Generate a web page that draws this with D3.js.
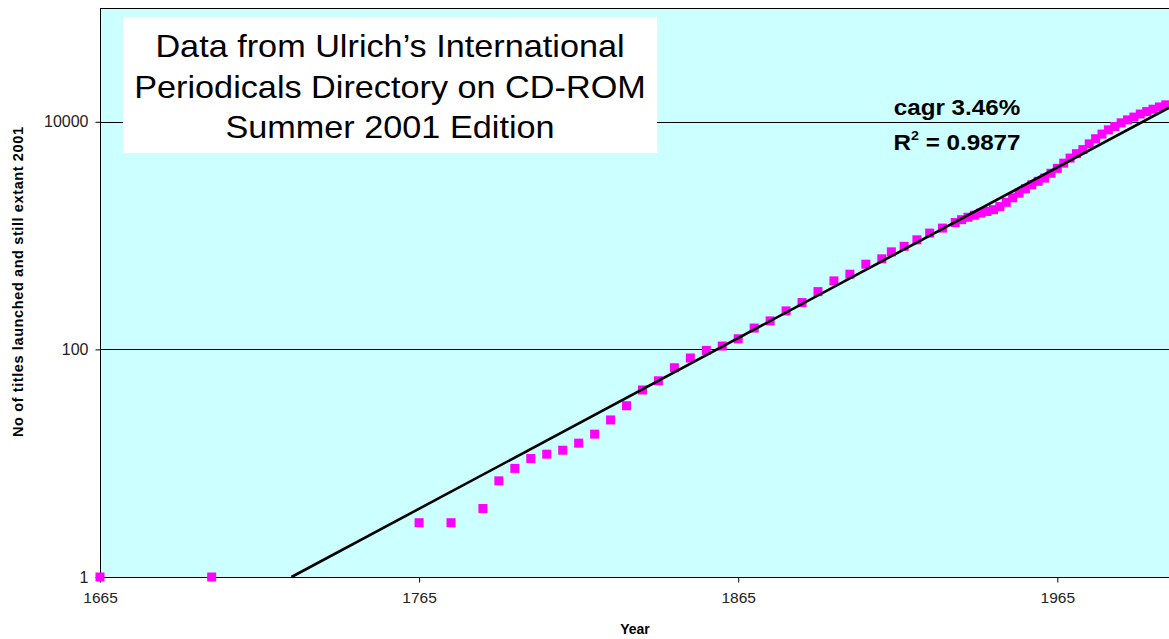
<!DOCTYPE html>
<html>
<head>
<meta charset="utf-8">
<script src="https://cdn.jsdelivr.net/npm/d3@7"></script>
<style>
  body { margin: 0; background: #fff; overflow: hidden; }
  text { font-family: 'Liberation Sans', Arial, sans-serif; }
</style>
</head>
<body>
<svg width="1169" height="639"></svg>
<script>
'use strict';

// titles launched and still extant in 2001, cumulative
const years = [
  1665, 1700, 1765, 1775, 1785, 1790, 1795, 1800, 1805, 1810, 1815, 1820,
  1825, 1830, 1835, 1840, 1845, 1850, 1855, 1860, 1865, 1870, 1875, 1880,
  1885, 1890, 1895, 1900, 1905, 1910, 1913, 1917, 1921, 1925, 1929, 1933,
  1935, 1937, 1939, 1941, 1943, 1945, 1947, 1949, 1951, 1953, 1955, 1957,
  1959, 1961, 1963, 1965, 1967, 1969, 1971, 1973, 1975, 1977, 1979, 1981,
  1983, 1985, 1987, 1989, 1991, 1993, 1995, 1997, 1999
]
const titles = [
  1, 1, 3, 3, 4, 7, 9, 11, 12, 13, 15, 18,
  24, 32, 44, 53, 69, 84, 98, 107, 124, 154, 178, 218,
  258, 322, 400, 458, 561, 625, 720, 805, 918, 1052, 1164, 1303,
  1380, 1450, 1510, 1575, 1630, 1690, 1800, 1960, 2150, 2360, 2580, 2800,
  3000, 3200, 3530, 3900, 4330, 4800, 5250, 5700, 6400, 7100, 7800, 8500,
  9100, 9800, 10400, 11000, 11700, 12300, 12900, 13500, 14100
]

// ends of the exponential trend line (straight on the log axis)
const trendYears = [1725, 2000]
const trendTitles = [1, 13300]

const xTicks = [1665, 1765, 1865, 1965]
const yTicks = [1, 100, 10000]
const boxLines = ['Data from Ulrich\u2019s International', 'Periodicals Directory on CD-ROM', 'Summer 2001 Edition']

const plotLeft = 100, plotRight = 1169, plotTop = 8, plotBottom = 577

const x = d3.scaleLinear().domain([1665, 2000]).range([plotLeft, plotRight])
const y = d3.scaleLog().domain([1, 100000]).range([plotBottom, plotTop])

const svg = d3.select('svg')

svg.append('rect')
  .attr('x', plotLeft + 0.5)
  .attr('y', plotTop + 0.5)
  .attr('width', plotRight - plotLeft + 5)
  .attr('height', plotBottom - plotTop)
  .style('fill', '#ccffff')
  .style('stroke', '#000')
  .style('stroke-width', 1)

// gridlines
svg.selectAll('line.grid')
  .data(yTicks.filter((d) => d > 1))
  .enter()
  .append('line')
  .attr('class', 'grid')
  .attr('x1', plotLeft)
  .attr('x2', plotRight)
  .attr('y1', (d) => Math.round(y(d)) + 0.5)
  .attr('y2', (d) => Math.round(y(d)) + 0.5)
  .style('stroke', '#000')
  .style('stroke-width', 1)

// y axis
const yAxis = svg.append('g')
  .attr('transform', `translate(${plotLeft + 0.5},0)`)
  .call(d3.axisLeft(y).tickValues(yTicks).tickFormat(d3.format('d')).tickSize(5).tickSizeOuter(0).tickPadding(7))
yAxis.select('.domain').remove()
yAxis.selectAll('line').style('stroke', '#000')
yAxis.selectAll('text').style('font-size', '16px').style('fill', '#222')

// x axis
const xAxis = svg.append('g')
  .attr('transform', `translate(0,${plotBottom + 0.5})`)
  .call(d3.axisBottom(x).tickValues(xTicks).tickFormat(d3.format('d')).tickSize(5).tickSizeOuter(0).tickPadding(9))
xAxis.select('.domain').remove()
xAxis.selectAll('line').style('stroke', '#000')
xAxis.selectAll('text').style('font-size', '15.5px').style('fill', '#222')

// text box
svg.append('rect')
  .attr('x', 123)
  .attr('y', 17)
  .attr('width', 534)
  .attr('height', 136)
  .style('fill', '#fff')

svg.append('g').selectAll('text')
  .data(boxLines)
  .enter()
  .append('text')
  .attr('transform', (d, i) => `translate(390,${57 + i * 40.5}) scale(1.07,1)`)
  .attr('text-anchor', 'middle')
  .style('font-size', '32px')
  .style('fill', '#000')
  .text((d) => d)

// data points
const size = 9
svg.append('g').selectAll('rect')
  .data(years.map((d, i) => [d, titles[i]]))
  .enter()
  .append('rect')
  .attr('x', (d) => x(d[0]) - size / 2)
  .attr('y', (d) => y(d[1]) - size / 2)
  .attr('width', size)
  .attr('height', size)
  .style('fill', '#ff00ff')

// trend line
const line = d3.line()
  .x((d) => x(d[0]))
  .y((d) => y(d[1]))

svg.append('path')
  .datum(trendYears.map((d, i) => [d, trendTitles[i]]))
  .attr('d', line)
  .style('fill', 'none')
  .style('stroke', '#000')
  .style('stroke-width', 2.6)

// fit annotation
svg.append('text')
  .attr('transform', 'translate(957,115) scale(1.1,1)')
  .attr('text-anchor', 'middle')
  .style('font-size', '22px')
  .style('font-weight', 'bold')
  .text('cagr 3.46%')

const r2 = svg.append('text')
  .attr('transform', 'translate(957,150) scale(1.1,1)')
  .attr('text-anchor', 'middle')
  .style('font-size', '22px')
  .style('font-weight', 'bold')
r2.append('tspan').text('R')
r2.append('tspan').attr('dy', -10).style('font-size', '13px').text('2')
r2.append('tspan').attr('dy', 10).text(' = 0.9877')

// axis titles
svg.append('text')
  .attr('x', 635)
  .attr('y', 634)
  .attr('text-anchor', 'middle')
  .style('font-size', '14px')
  .style('font-weight', 'bold')
  .text('Year')

svg.append('text')
  .attr('transform', 'translate(23,282) rotate(-90)')
  .attr('text-anchor', 'middle')
  .style('font-size', '14.5px')
  .style('font-weight', 'bold')
  .attr('textLength', 310)
  .attr('lengthAdjust', 'spacing')
  .text('No of titles launched and still extant 2001')
</script>
</body>
</html>
